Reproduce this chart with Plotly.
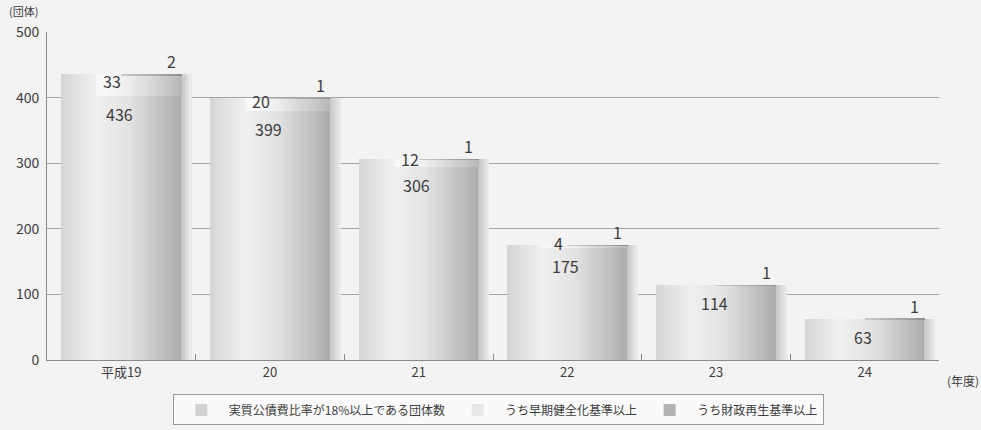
import numpy as np
import plotly.graph_objects as go

# Fiscal years (Heisei) and counts of local governments
categories = ["平成19", "20", "21", "22", "23", "24"]
total_count = [436, 399, 306, 175, 114, 63]      # real debt-service ratio >= 18%
early_count = [33, 20, 12, 4, 0, 0]              # of which above early-soundness threshold
rebuild_count = [2, 1, 1, 1, 1, 1]               # of which above financial-rebuild threshold

legend_names = ["実質公債費比率が18%以上である団体数", "うち早期健全化基準以上", "うち財政再生基準以上"]

FONT = "Noto Sans CJK JP"
TEXT = "#3c3c3c"
BG = "#f3f3f3"

# Bar geometry in category units
BAR_L, BAR_R = -0.403, 0.403
BAND_L = -0.168
FIN_L = 0.0


def shade(t, lift=0):
    """Cylinder-like gray gradient across the bar width (t in 0..1)."""
    v = np.interp(t, [0.0, 0.28, 0.55, 0.85, 1.0], [214, 240, 228, 192, 172]) + lift
    v = int(min(v, 248))
    return f"rgb({v},{v},{v})"


def strips(left, right, n):
    step = (right - left) / n
    for i in range(n):
        yield left + i * step, step


fig = go.Figure()

# Main bar: vertical strips forming a gradient
for off, w in strips(BAR_L, BAR_R, 48):
    t = (off + w / 2 - BAR_L) / (BAR_R - BAR_L)
    fig.add_trace(go.Bar(x=categories, y=total_count, offset=off, width=w * 1.15,
                         marker=dict(color=shade(t), line=dict(width=0)),
                         showlegend=False, hoverinfo="skip"))

# Soft shadow on the right of each bar
for off, w in strips(BAR_R, BAR_R + 0.07, 6):
    k = (off - BAR_R) / 0.07
    v = int(np.interp(k, [0, 1], [200, 240]))
    fig.add_trace(go.Bar(x=categories, y=total_count, offset=off, width=w * 1.15,
                         marker=dict(color=f"rgb({v},{v},{v})", line=dict(width=0)),
                         showlegend=False, hoverinfo="skip"))

# Early-soundness band on top of the bar
band_base = [t - e for t, e in zip(total_count, early_count)]
for off, w in strips(BAND_L, BAR_R, 34):
    t = (off + w / 2 - BAR_L) / (BAR_R - BAR_L)
    fig.add_trace(go.Bar(x=categories, y=early_count, base=band_base, offset=off, width=w * 1.15,
                         marker=dict(color=shade(t, lift=12), line=dict(width=0)),
                         showlegend=False, hoverinfo="skip"))

# Financial-rebuild sliver at the very top
fin_base = [t - f for t, f in zip(total_count, rebuild_count)]
for off, w in strips(FIN_L, BAR_R, 20):
    t = (off + w / 2 - BAR_L) / (BAR_R - BAR_L)
    fig.add_trace(go.Bar(x=categories, y=rebuild_count, base=fin_base, offset=off, width=w * 1.15,
                         marker=dict(color=shade(t, lift=-30), line=dict(width=0)),
                         showlegend=False, hoverinfo="skip"))

# Legend entries
for name, col in zip(legend_names, ["#d2d2d2", "#e8e8e8", "#b4b4b4"]):
    fig.add_trace(go.Bar(x=[categories[0]], y=[None], name=name,
                         marker=dict(color=col, line=dict(width=0)), hoverinfo="skip"))

# Value labels (x given as category index)
ann = []
for i, (t, e, f) in enumerate(zip(total_count, early_count, rebuild_count)):
    ann.append(dict(x=i, y=t - e, text=str(t), showarrow=False, yanchor="top", yshift=-4,
                    xshift=-2, font=dict(size=16, color=TEXT, family=FONT)))
    if e > 0:
        ann.append(dict(x=i, y=t - e / 2, text=str(e), showarrow=False, yanchor="middle",
                        xshift=-9, yshift=4, font=dict(size=16, color=TEXT, family=FONT)))
    ann.append(dict(x=i, y=t, text=str(f), showarrow=False, yanchor="bottom", yshift=-1,
                    xshift=50, font=dict(size=16, color=TEXT, family=FONT)))

ann.append(dict(xref="paper", yref="paper", x=-0.045, y=1.0, yshift=21, text="(団体)",
                showarrow=False, xanchor="left", yanchor="middle",
                font=dict(size=11, color=TEXT, family=FONT)))
ann.append(dict(xref="paper", yref="paper", x=1.0, y=0, yshift=-20, xshift=6, text="(年度)",
                showarrow=False, xanchor="left", yanchor="middle",
                font=dict(size=12, color=TEXT, family=FONT)))

fig.update_layout(
    width=981, height=430,
    margin=dict(l=47, r=42, t=32, b=70, autoexpand=False),
    paper_bgcolor=BG, plot_bgcolor=BG,
    barmode="overlay", bargap=0,
    font=dict(family=FONT, color=TEXT),
    annotations=ann,
    legend=dict(orientation="h", x=0.506, xanchor="center", y=-0.105, yanchor="top",
                bgcolor="#fafafa", bordercolor="#9a9a9a", borderwidth=1,
                font=dict(size=12, color=TEXT, family=FONT), itemwidth=45,
                traceorder="normal"),
)
fig.update_xaxes(type="category", range=[-0.5, 5.5], showline=True, linecolor="#8a8a8a",
                 linewidth=1, ticks="inside", tickson="boundaries", ticklen=6,
                 tickcolor="#8a8a8a", showgrid=False,
                 tickfont=dict(size=13, color=TEXT, family=FONT))
fig.update_yaxes(range=[0, 500], dtick=100, showgrid=True, gridcolor="#a6a6a6", gridwidth=1,
                 showline=True, linecolor="#8a8a8a", linewidth=1, ticks="",
                 zeroline=False, ticklabelstandoff=4,
                 tickfont=dict(size=14, color=TEXT, family=FONT))

fig.write_html("out.html")
